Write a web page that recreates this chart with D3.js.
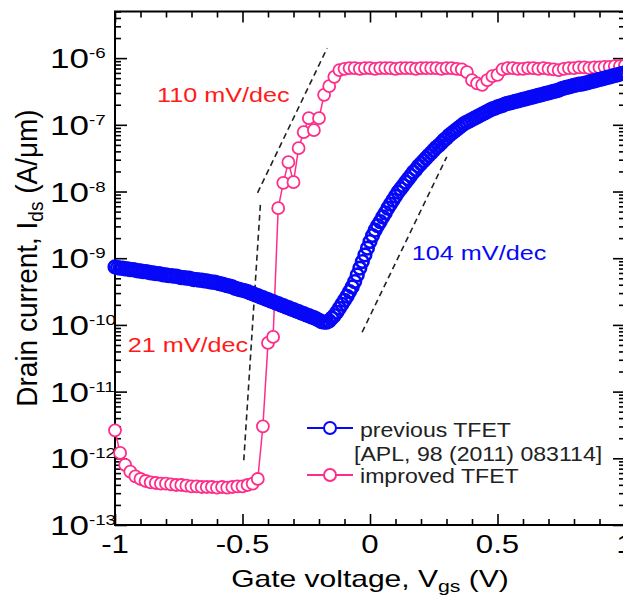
<!DOCTYPE html>
<html>
<head>
<meta charset="utf-8">
<script src="https://cdn.jsdelivr.net/npm/d3@7"></script>
<style>
  body { margin: 0; background: #fff; }
  text { font-family: "Liberation Sans", Arial, sans-serif; }
</style>
</head>
<body>
<div id="chart"></div>
<script>
// gate voltage sweep of the improved TFET, V
var vgs = [-1, -0.98, -0.96, -0.94, -0.92, -0.9, -0.88, -0.86, -0.84, -0.82,
  -0.8, -0.78, -0.76, -0.74, -0.72, -0.7, -0.68, -0.66, -0.64, -0.62,
  -0.6, -0.58, -0.56, -0.54, -0.52, -0.5, -0.48, -0.46, -0.44, -0.42,
  -0.4, -0.38, -0.36, -0.34, -0.32, -0.3, -0.28, -0.26, -0.24, -0.22,
  -0.2, -0.18, -0.16, -0.14, -0.12, -0.1, -0.08, -0.06, -0.04, -0.02,
  0, 0.02, 0.04, 0.06, 0.08, 0.1, 0.12, 0.14, 0.16, 0.18,
  0.2, 0.22, 0.24, 0.26, 0.28, 0.3, 0.32, 0.34, 0.36, 0.38,
  0.4, 0.42, 0.44, 0.46, 0.48, 0.5, 0.52, 0.54, 0.56, 0.58,
  0.6, 0.62, 0.64, 0.66, 0.68, 0.7, 0.72, 0.74, 0.76, 0.78,
  0.8, 0.82, 0.84, 0.86, 0.88, 0.9, 0.92, 0.94, 0.96, 0.98, 1]

// log10 of drain current (A/um), improved TFET
var imprLogIds = [-11.58, -11.92, -12.1, -12.2, -12.27, -12.31, -12.34, -12.36, -12.37, -12.38,
  -12.38, -12.39, -12.4, -12.4, -12.41, -12.42, -12.42, -12.43, -12.43, -12.43,
  -12.44, -12.43, -12.44, -12.43, -12.42, -12.42, -12.4, -12.38, -12.31, -11.52,
  -10.27, -10.18, -8.25, -7.87, -7.56, -7.86, -7.35, -7.11, -6.9, -7.08,
  -6.9, -6.55, -6.42, -6.28, -6.18, -6.16, -6.15, -6.15, -6.16, -6.15,
  -6.15, -6.16, -6.15, -6.15, -6.15, -6.16, -6.15, -6.15, -6.15, -6.16,
  -6.15, -6.15, -6.15, -6.15, -6.16, -6.15, -6.15, -6.16, -6.17, -6.21,
  -6.33, -6.38, -6.4, -6.33, -6.27, -6.25, -6.17, -6.15, -6.15, -6.16,
  -6.16, -6.15, -6.15, -6.16, -6.15, -6.16, -6.17, -6.18, -6.16, -6.15,
  -6.15, -6.14, -6.14, -6.15, -6.14, -6.14, -6.13, -6.13, -6.12, -6.12, -6.11]

// previous TFET was swept on a finer grid, V
var prevVgs = [-1, -0.99, -0.98, -0.97, -0.96, -0.95, -0.94, -0.93, -0.92, -0.91,
  -0.9, -0.89, -0.88, -0.87, -0.86, -0.85, -0.84, -0.83, -0.82, -0.81,
  -0.8, -0.79, -0.78, -0.77, -0.76, -0.75, -0.74, -0.73, -0.72, -0.71,
  -0.7, -0.69, -0.68, -0.67, -0.66, -0.65, -0.64, -0.63, -0.62, -0.61,
  -0.6, -0.59, -0.58, -0.57, -0.56, -0.55, -0.54, -0.53, -0.52, -0.51,
  -0.5, -0.49, -0.48, -0.47, -0.46, -0.45, -0.44, -0.43, -0.42, -0.41,
  -0.4, -0.39, -0.38, -0.37, -0.36, -0.35, -0.34, -0.33, -0.32, -0.31,
  -0.3, -0.29, -0.28, -0.27, -0.26, -0.25, -0.24, -0.23, -0.22, -0.21,
  -0.2, -0.19, -0.18, -0.17, -0.16, -0.15, -0.14, -0.13, -0.12, -0.11,
  -0.1, -0.09, -0.08, -0.07, -0.06, -0.05, -0.04, -0.03, -0.02, -0.01,
  0, 0.01, 0.02, 0.03, 0.04, 0.05, 0.06, 0.07, 0.08, 0.09,
  0.1, 0.11, 0.12, 0.13, 0.14, 0.15, 0.16, 0.17, 0.18, 0.19,
  0.2, 0.21, 0.22, 0.23, 0.24, 0.25, 0.26, 0.27, 0.28, 0.29,
  0.3, 0.31, 0.32, 0.33, 0.34, 0.35, 0.36, 0.37, 0.38, 0.39,
  0.4, 0.41, 0.42, 0.43, 0.44, 0.45, 0.46, 0.47, 0.48, 0.49,
  0.5, 0.51, 0.52, 0.53, 0.54, 0.55, 0.56, 0.57, 0.58, 0.59,
  0.6, 0.61, 0.62, 0.63, 0.64, 0.65, 0.66, 0.67, 0.68, 0.69,
  0.7, 0.71, 0.72, 0.73, 0.74, 0.75, 0.76, 0.77, 0.78, 0.79,
  0.8, 0.81, 0.82, 0.83, 0.84, 0.85, 0.86, 0.87, 0.88, 0.89,
  0.9, 0.91, 0.92, 0.93, 0.94, 0.95, 0.96, 0.97, 0.98, 0.99, 1]

// log10 of drain current (A/um), previous TFET
var prevLogIds = [-9.13, -9.14, -9.15, -9.15, -9.16, -9.16, -9.17, -9.17, -9.18, -9.19,
  -9.19, -9.2, -9.2, -9.21, -9.22, -9.22, -9.23, -9.23, -9.24, -9.25,
  -9.25, -9.26, -9.26, -9.27, -9.27, -9.28, -9.29, -9.29, -9.3, -9.3,
  -9.31, -9.32, -9.32, -9.33, -9.33, -9.34, -9.34, -9.35, -9.36, -9.36,
  -9.37, -9.38, -9.39, -9.4, -9.41, -9.42, -9.43, -9.45, -9.46, -9.47,
  -9.48, -9.49, -9.5, -9.52, -9.53, -9.55, -9.56, -9.58, -9.59, -9.61,
  -9.62, -9.64, -9.65, -9.67, -9.68, -9.7, -9.71, -9.73, -9.74, -9.76,
  -9.77, -9.79, -9.8, -9.82, -9.83, -9.85, -9.86, -9.88, -9.89, -9.91,
  -9.93, -9.95, -9.96, -9.96, -9.94, -9.9, -9.86, -9.81, -9.75, -9.69,
  -9.63, -9.57, -9.5, -9.43, -9.35, -9.25, -9.15, -9.05, -8.95, -8.85,
  -8.75, -8.66, -8.58, -8.51, -8.45, -8.38, -8.32, -8.25, -8.19, -8.13,
  -8.07, -8.01, -7.96, -7.91, -7.86, -7.81, -7.76, -7.71, -7.67, -7.62,
  -7.58, -7.54, -7.5, -7.46, -7.42, -7.38, -7.34, -7.31, -7.27, -7.23,
  -7.2, -7.16, -7.13, -7.1, -7.07, -7.04, -7.01, -6.98, -6.96, -6.94,
  -6.92, -6.9, -6.88, -6.86, -6.84, -6.82, -6.8, -6.78, -6.76, -6.75,
  -6.73, -6.72, -6.71, -6.69, -6.68, -6.67, -6.66, -6.65, -6.64, -6.63,
  -6.62, -6.61, -6.6, -6.59, -6.58, -6.57, -6.56, -6.55, -6.54, -6.53,
  -6.52, -6.51, -6.5, -6.49, -6.48, -6.46, -6.45, -6.44, -6.43, -6.42,
  -6.41, -6.4, -6.39, -6.39, -6.38, -6.37, -6.36, -6.35, -6.34, -6.33,
  -6.32, -6.31, -6.3, -6.29, -6.28, -6.27, -6.26, -6.25, -6.24, -6.23, -6.22]

// dashed slope guides: [vgs, log10 Ids] end points
var fit110 = [[-0.441, -8.02], [-0.168, -5.85]]
var fit21 = [[-0.43, -8.2], [-0.495, -12.03]]
var fit104 = [[-0.031, -10.11], [0.301, -7.48]]

var slopeLabels = ["110 mV/dec", "21 mV/dec", "104 mV/dec"]
var legendLabels = ["previous TFET", "[APL, 98 (2011) 083114]", "improved TFET"]
var xTickLabels = [-1, -0.5, 0, 0.5, 1]
var yTickExps = [-13, -12, -11, -10, -9, -8, -7, -6]

var BLUE = "#0808f8", PINK = "#ff2d8a", RED = "#ff1a1a"

;(function () {

  var margin = { top: 11.5, left: 115 }
  var width = 510, height = 513.5

  var svg = d3.select("#chart").append("svg")
    .attr("width", 623)
    .attr("height", 600)

  var g = svg.append("g")
    .attr("transform", "translate(" + margin.left + "," + margin.top + ")")

  var x = d3.scaleLinear().domain([-1, 1]).range([0, width])
  var y = d3.scaleLog().domain([1e-13, 5e-6]).range([height, 0])

  function ids(logv) { return Math.pow(10, logv) }

  // stretched text, the original figure is a bit wider than tall
  function putText(sel, px, py, sx) {
    return sel.attr("transform", "translate(" + px + "," + py + ") scale(" + sx + ",1)")
  }

  // tick positions
  var xMinor = d3.range(-10, 11).map(function (d) { return d / 10 })
    .filter(function (d) { return Math.round(d * 10) % 5 !== 0 })
  var yMajor = yTickExps.map(ids)
  var yMinor = []
  yTickExps.forEach(function (e) {
    for (var m = 2; m <= 9; m++) {
      var v = m * Math.pow(10, e)
      if (v <= 5.01e-6) yMinor.push(v)
    }
  })

  function tickAxis(axis, values, size, tr) {
    var a = g.append("g")
      .attr("class", "axis")
      .attr("transform", tr || null)
      .call(axis.tickValues(values).tickSize(size).tickFormat(""))
    a.select(".domain").remove()
    a.selectAll("line").attr("stroke", "#000").attr("stroke-width", 1.6)
    return a
  }

  tickAxis(d3.axisBottom(x), xMinor, -6, "translate(0," + height + ")")
  tickAxis(d3.axisBottom(x), xTickLabels, -11, "translate(0," + height + ")")
  tickAxis(d3.axisTop(x), xMinor, -6)
  tickAxis(d3.axisTop(x), xTickLabels, -11)
  tickAxis(d3.axisLeft(y), yMinor, -6)
  tickAxis(d3.axisLeft(y), yMajor, -12)
  tickAxis(d3.axisRight(y), yMinor, -6, "translate(" + width + ",0)")
  tickAxis(d3.axisRight(y), yMajor, -12, "translate(" + width + ",0)")

  g.append("rect")
    .attr("width", width)
    .attr("height", height)
    .attr("fill", "none")
    .attr("stroke", "#000")
    .attr("stroke-width", 2)

  // x tick labels
  g.selectAll(".xlab")
    .data(xTickLabels)
    .enter()
    .append("text")
    .attr("class", "xlab")
    .attr("text-anchor", "middle")
    .attr("font-size", 26)
    .text(function (d) { return String(d) })
    .each(function (d) {
      putText(d3.select(this), x(d), height + 28, 1.2)
    })

  // y tick labels 10^n
  var ylab = g.selectAll(".ylab")
    .data(yTickExps)
    .enter()
    .append("text")
    .attr("class", "ylab")
    .attr("font-size", 28)
    .each(function (d) {
      putText(d3.select(this), -65, y(ids(d)) + 10, 1.25)
    })
  ylab.append("tspan").text("10")
  ylab.append("tspan")
    .attr("font-size", 15)
    .attr("dy", -10)
    .text(function (d) { return String(d) })

  // axis titles
  var xt = g.append("text")
    .attr("text-anchor", "middle")
    .attr("font-size", 24)
  putText(xt, x(0), 575.5, 1.25)
  xt.append("tspan").text("Gate voltage, V")
  xt.append("tspan").attr("font-size", 17).attr("dy", 5).text("gs")
  xt.append("tspan").attr("dy", -5).text(" (V)")

  var yt = g.append("text")
    .attr("text-anchor", "middle")
    .attr("font-size", 28)
    .attr("transform", "translate(" + (37 - margin.left) + "," + (258 - margin.top) + ") scale(1.05,1) rotate(-90)")
  yt.append("tspan").text("Drain current, I")
  yt.append("tspan").attr("font-size", 19).attr("dy", 6).text("ds")
  yt.append("tspan").attr("dy", -6).text(" (A/\u03bcm)")

  // dashed slope guides
  var guide = d3.line()
    .x(function (d) { return x(d[0]) })
    .y(function (d) { return y(ids(d[1])) })

  g.selectAll(".guide")
    .data([fit110, fit21, fit104])
    .enter()
    .append("path")
    .attr("class", "guide")
    .attr("d", guide)
    .attr("fill", "none")
    .attr("stroke", "#222")
    .attr("stroke-width", 1.6)
    .attr("stroke-dasharray", "6,4")

  var impr = vgs.map(function (v, i) { return { v: v, i: ids(imprLogIds[i]) } })
  var prev = prevVgs.map(function (v, i) { return { v: v, i: ids(prevLogIds[i]) } })

  var line = d3.line()
    .x(function (d) { return x(d.v) })
    .y(function (d) { return y(d.i) })

  // improved TFET: line + open circles
  g.append("path")
    .datum(impr)
    .attr("d", line)
    .attr("fill", "none")
    .attr("stroke", PINK)
    .attr("stroke-width", 1.5)

  g.selectAll(".impr")
    .data(impr)
    .enter()
    .append("circle")
    .attr("class", "impr")
    .attr("cx", function (d) { return x(d.v) })
    .attr("cy", function (d) { return y(d.i) })
    .attr("r", 6)
    .attr("fill", "#fff")
    .attr("stroke", PINK)
    .attr("stroke-width", 1.8)

  // previous TFET: dense open circles
  g.selectAll(".prev")
    .data(prev)
    .enter()
    .append("circle")
    .attr("class", "prev")
    .attr("cx", function (d) { return x(d.v) })
    .attr("cy", function (d) { return y(d.i) })
    .attr("r", 6.3)
    .attr("fill", "none")
    .attr("stroke", BLUE)
    .attr("stroke-width", 2.6)

  // slope labels
  var slopePos = [[-0.835, -6.66, RED], [-0.95, -10.41, RED], [0.164, -9.03, BLUE]]
  slopeLabels.forEach(function (t, k) {
    var p = slopePos[k]
    var lab = g.append("text")
      .attr("font-size", 21)
      .attr("fill", p[2])
      .text(t)
    putText(lab, x(p[0]), y(ids(p[1])), 1.2)
  })

  // legend
  var leg = svg.append("g")
  var legRows = [[BLUE, 428], [PINK, 475]]
  legRows.forEach(function (r) {
    leg.append("line")
      .attr("x1", 307).attr("x2", 353)
      .attr("y1", r[1]).attr("y2", r[1])
      .attr("stroke", r[0])
      .attr("stroke-width", 2)
    leg.append("circle")
      .attr("cx", 330).attr("cy", r[1])
      .attr("r", 6)
      .attr("fill", "#fff")
      .attr("stroke", r[0])
      .attr("stroke-width", 2)
  })
  var legPos = [[360, 437], [354, 461], [360, 483]]
  legendLabels.forEach(function (t, k) {
    var lt = leg.append("text")
      .attr("font-size", 21)
      .attr("fill", "#222")
      .text(t)
    putText(lt, legPos[k][0], legPos[k][1], 1.1)
  })

})()
</script>
</body>
</html>
